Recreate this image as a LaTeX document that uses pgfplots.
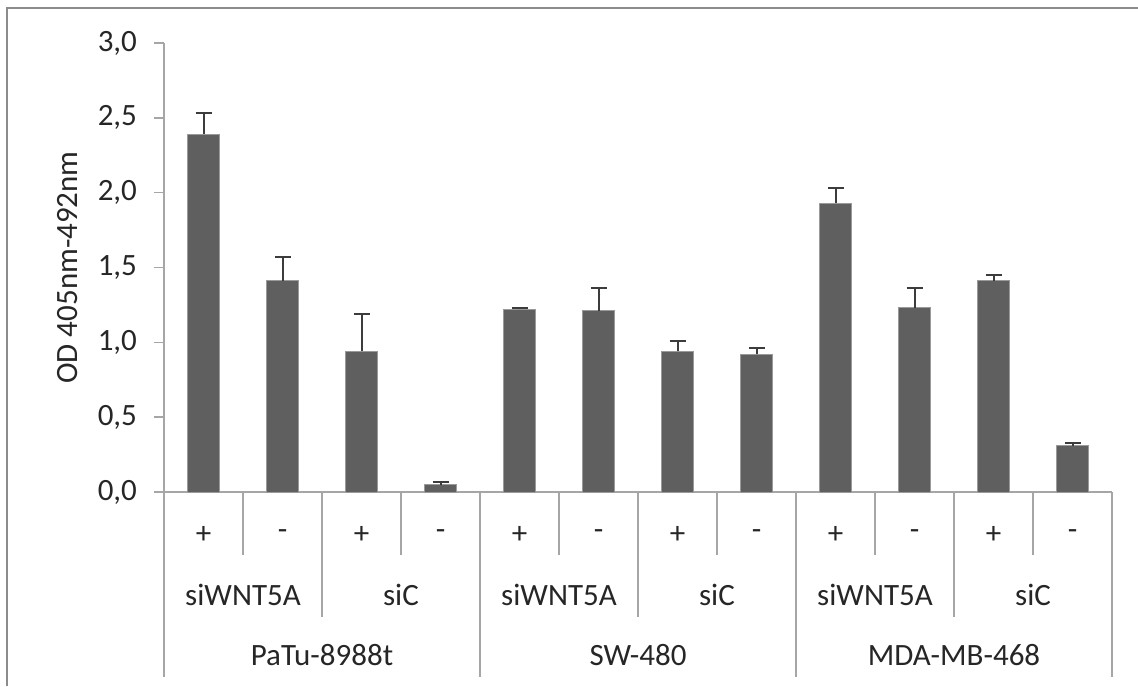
\documentclass[border=0pt]{standalone}
\usepackage{pgfplots}
\pgfplotsset{compat=1.18}
\usepackage{fontspec}
\setmainfont{Carlito}
\definecolor{barc}{HTML}{5F5F5F}
\definecolor{barb}{HTML}{9A9A9A}
\definecolor{axc}{HTML}{A6A6A6}
\definecolor{txt}{HTML}{262626}
\definecolor{frm}{HTML}{8C8C8C}
\pgfplotstableread{
x y e
0 2.39 0.14
1 1.41 0.16
2 0.94 0.25
3 0.05 0.015
4 1.22 0.01
5 1.21 0.15
6 0.94 0.07
7 0.92 0.04
8 1.93 0.10
9 1.23 0.13
10 1.41 0.04
11 0.31 0.02
}\datatable
\begin{document}
\begin{tikzpicture}[font=\fontsize{15.5}{18}\selectfont]
\begin{axis}[
  at={(0,0)}, anchor=south west,
  scale only axis, width=474pt, height=224.5pt,
  xmin=-0.5, xmax=11.5, ymin=0, ymax=3,
  axis lines*=left,
  axis line style={axc, line width=0.8pt},
  xtick=\empty,
  ytick={0,0.5,...,3},
  tick align=outside,
  major tick length=5pt,
  ytick style={axc, line width=0.8pt},
  yticklabel style={txt, xshift=-5pt, /pgf/number format/.cd, use comma, fixed, fixed zerofill, precision=1, assume math mode=true},
  ylabel={OD 405nm-492nm},
  ylabel style={at={([xshift=-48pt]axis description cs:0,0.5)}, anchor=center, txt},
  clip=false,
]
\addplot[ybar, bar width=16pt, fill=barc, draw=barb, line width=0.5pt,
  error bars/.cd, y dir=plus, y explicit,
  error bar style={color=txt!90, line width=1pt},
  error mark options={color=txt!90, line width=1pt, mark size=4pt, rotate=90}]
  table[x=x, y=y, y error=e] {\datatable};
% category separators
\pgfplotsinvokeforeach{0.5,2.5,4.5,6.5,8.5,10.5}{
  \draw[axc, line width=0.8pt] (axis cs:#1,0) -- ([yshift=-31.5pt]axis cs:#1,0);}
\pgfplotsinvokeforeach{1.5,5.5,9.5}{
  \draw[axc, line width=0.8pt] (axis cs:#1,0) -- ([yshift=-62.5pt]axis cs:#1,0);}
\pgfplotsinvokeforeach{-0.5,3.5,7.5,11.5}{
  \draw[axc, line width=0.8pt] (axis cs:#1,0) -- ([yshift=-92.5pt]axis cs:#1,0);}
% level 1 labels
\pgfplotsinvokeforeach{0,2,4,6,8,10}{
  \node[txt] at ([yshift=-21.5pt]axis cs:#1,0) {+};}
\pgfplotsinvokeforeach{1,3,5,7,9,11}{
  \node[txt] at ([yshift=-21.5pt]axis cs:#1,0) {-};}
% level 2 labels
\pgfplotsinvokeforeach{0.5,4.5,8.5}{
  \node[txt] at ([yshift=-51.5pt]axis cs:#1,0) {siWNT5A};}
\pgfplotsinvokeforeach{2.5,6.5,10.5}{
  \node[txt] at ([yshift=-51.5pt]axis cs:#1,0) {siC};}
% level 3 labels
\node[txt] at ([yshift=-81.5pt]axis cs:1.5,0) {PaTu-8988t};
\node[txt] at ([yshift=-81.5pt]axis cs:5.5,0) {SW-480};
\node[txt] at ([yshift=-81.5pt]axis cs:9.5,0) {MDA-MB-468};
\end{axis}
\draw[frm, line width=1.2pt] (-78.5pt,-97pt) -- (-78.5pt,242pt) -- (487pt,242pt);
\pgfresetboundingbox
\path[use as bounding box] (-82pt,-97pt) rectangle (487pt,246pt);
\end{tikzpicture}
\end{document}
